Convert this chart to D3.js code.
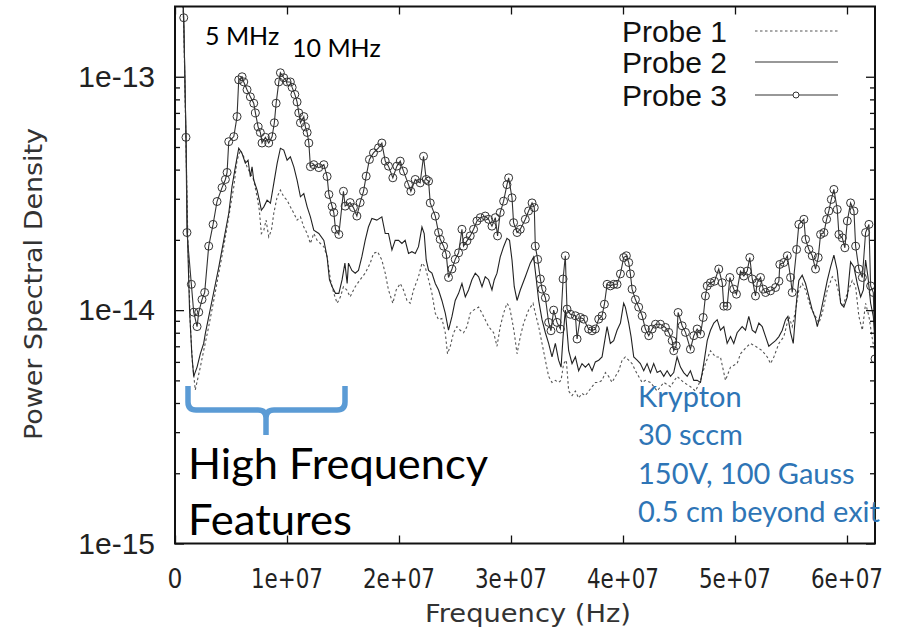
<!DOCTYPE html>
<html>
<head>
<meta charset="utf-8">
<script src="https://cdn.jsdelivr.net/npm/d3@7"></script>
<style>
  html, body { margin: 0; padding: 0; background: #fff; }
  svg { display: block; }
</style>
</head>
<body>
<svg id="chart" width="901" height="630"></svg>
<script>
// ---------------- DATA (frequency in MHz, PSD in units of 1e-14) ----------------
const probe3Freq = [0.6,0.78,0.98,1.07,1.46,1.67,1.97,2.12,2.41,2.65,3.01,3.40,3.75,4.20,4.50,4.65,4.80,5.25,5.54,5.69,5.99,6.14,6.43,6.73,7.03,7.18,7.42,7.62,7.77,8.07,8.37,8.67,8.87,9.03,9.27,9.41,9.71,10.01,10.30,10.46,10.70,10.90,11.05,11.20,11.50,11.64,11.80,11.95,12.09,12.39,12.84,13.29,13.58,13.74,14.03,14.18,14.33,14.63,15.04,15.19,15.64,15.93,16.24,16.53,16.83,17.07,17.36,17.72,18.17,18.47,18.77,19.06,19.45,19.81,20.11,20.40,20.85,21.06,21.45,21.89,22.19,22.43,22.64,22.79,23.24,23.53,23.68,23.98,24.22,24.42,24.73,25.02,25.32,25.62,25.76,26.07,26.36,26.66,26.96,27.26,27.70,28.00,28.30,28.60,28.80,29.04,29.34,29.64,29.79,30.09,30.23,30.54,30.83,31.28,31.57,31.88,32.08,32.17,32.38,32.62,32.77,33.07,33.36,33.57,33.81,34.11,34.41,34.65,34.85,35.00,35.30,35.75,35.90,36.19,36.49,36.93,37.24,37.53,37.83,38.13,38.34,38.58,38.87,39.17,39.47,39.77,40.06,40.30,40.51,40.66,40.81,41.11,41.40,41.71,42.00,42.30,42.60,42.90,43.34,43.79,44.08,44.39,44.53,44.75,44.92,45.28,45.58,46.02,46.32,46.62,46.92,47.16,47.36,47.52,47.81,48.17,48.55,48.86,49.00,49.30,49.54,49.89,50.13,50.49,50.79,51.09,51.32,51.54,51.83,51.98,52.28,52.52,52.73,53.17,53.62,53.92,54.00,54.36,54.67,54.96,55.11,55.50,55.70,56.15,56.30,56.60,56.90,57.19,57.43,57.64,57.94,58.18,58.38,58.60,58.83,59.13,59.28,59.58,59.81,60.03,60.32,60.62,60.77,61.06,61.37,61.66,61.96,62.11,62.35,62.50];
const probe3PSD = [30,17.9,5.5,2.15,1.29,0.98,0.85,0.98,1.11,1.19,1.88,2.33,2.92,3.35,3.63,3.89,5.27,5.54,6.75,9.7,10.0,9.5,8.8,8.2,7.7,7.0,6.1,5.77,5.2,5.5,5.2,5.54,6.35,7.7,9.5,10.4,9.9,9.5,9.5,9.0,8.4,7.8,7.0,6.35,6.75,6.1,5.77,5.2,4.12,4.2,4.08,4.2,3.74,3.13,2.78,2.62,2.22,2.11,3.23,2.79,2.89,2.75,2.53,2.89,3.23,3.75,4.42,4.72,4.96,5.2,4.35,4.14,3.69,4.14,4.35,3.94,3.45,3.23,3.63,3.51,4.56,3.63,3.57,2.88,2.53,2.15,2.01,1.88,1.73,1.38,1.50,1.65,1.76,2.22,1.88,1.98,2.08,2.22,2.41,2.49,2.53,2.45,2.29,2.49,2.08,2.62,2.93,3.45,3.69,3.03,2.37,2.15,2.22,2.45,2.66,2.88,2.75,1.88,1.65,1.36,1.23,1.13,0.886,0.816,1.0,0.886,0.83,1.36,1.71,1.01,0.96,0.946,0.752,0.93,0.915,0.83,0.816,0.83,0.915,0.946,1.06,1.29,1.27,1.29,1.29,1.43,1.68,1.71,1.60,1.43,1.23,1.11,1.03,0.946,0.83,0.777,0.83,0.87,0.87,0.843,0.803,0.74,0.67,0.704,0.977,0.857,0.803,0.68,0.777,0.83,0.79,0.93,1.15,1.27,1.31,1.33,1.50,1.31,1.04,1.04,1.38,1.23,1.17,1.47,1.40,1.47,1.68,1.36,1.15,1.31,1.38,1.23,1.19,1.21,1.25,1.33,1.57,1.60,1.71,1.38,1.19,1.82,2.33,2.45,2.01,1.82,1.71,1.50,1.68,2.11,2.15,2.45,2.66,2.98,3.29,2.70,2.11,2.04,1.85,2.41,2.88,2.66,1.88,1.50,1.38,2.15,2.33,1.27,1.19,0.618];

const probe2Freq = [0.6,0.8,1.0,1.1,1.3,1.5,1.67,1.97,2.26,2.56,2.71,3.31,3.91,4.35,4.80,5.09,5.39,5.69,5.99,6.28,6.52,6.73,6.88,7.03,7.33,7.53,7.71,7.93,8.22,8.52,8.82,9.12,9.41,9.71,10.01,10.30,10.61,10.90,11.20,11.50,11.80,12.09,12.39,12.84,13.29,13.58,13.79,14.03,14.33,14.63,14.92,15.17,15.37,15.49,15.79,16.09,16.38,16.68,16.98,17.27,17.58,18.02,18.47,18.77,19.06,19.37,19.66,19.96,20.26,20.55,20.85,21.15,21.45,21.74,22.05,22.25,22.43,22.64,22.94,23.24,23.53,23.83,24.13,24.42,24.73,25.02,25.32,25.62,25.92,26.21,26.51,26.81,27.11,27.41,27.70,28.00,28.30,28.51,28.75,29.04,29.34,29.64,29.87,30.09,30.29,30.54,30.83,31.28,31.72,32.02,32.26,32.47,32.77,33.07,33.36,33.66,33.96,34.25,34.47,34.65,34.85,35.15,35.45,35.75,36.04,36.34,36.64,36.94,37.24,37.53,37.83,38.13,38.43,38.58,38.87,39.17,39.47,39.77,40.06,40.21,40.51,40.72,40.96,41.26,41.55,41.85,42.15,42.45,42.74,43.05,43.34,43.64,43.94,44.24,44.53,44.83,45.13,45.42,45.73,46.02,46.32,46.62,46.92,47.21,47.52,47.81,48.11,48.41,48.70,49.00,49.30,49.60,49.89,50.19,50.64,50.94,51.23,51.54,51.83,52.13,52.43,52.73,53.02,53.32,53.62,53.92,54.22,54.51,54.72,54.96,55.20,55.50,55.70,56.00,56.30,56.60,56.90,57.19,57.35,57.64,57.94,58.24,58.53,58.83,59.13,59.43,59.72,60.03,60.32,60.62,60.92,61.22,61.46,61.66,61.87,62.11,62.35,62.50];
const probe2PSD = [30,16,5,2.2,1.0,0.65,0.52,0.57,0.65,0.72,0.795,1.10,1.53,1.99,2.60,3.38,4.11,4.94,4.69,4.26,4.39,3.73,4.11,3.61,3.27,2.96,2.68,2.77,2.96,2.87,3.49,4.25,4.94,4.85,4.39,4.54,4.11,3.61,3.06,3.16,2.77,2.51,2.20,2.13,1.99,1.69,1.35,1.26,1.18,1.18,1.35,1.59,1.30,1.59,1.48,1.44,1.48,1.69,1.99,2.27,2.47,2.43,2.51,2.13,2.13,1.81,1.99,1.99,1.93,1.99,1.75,1.78,1.75,1.87,2.27,2.13,1.64,1.48,1.44,1.30,1.22,1.10,0.97,0.82,0.94,1.10,1.18,1.30,1.14,1.22,1.35,1.44,1.39,1.26,1.39,1.35,1.22,1.35,1.44,1.69,1.87,2.03,1.99,1.64,1.26,1.10,1.22,1.39,1.59,1.69,1.35,1.10,0.91,0.80,0.72,0.63,0.72,0.61,0.57,0.77,1.0,0.67,0.59,0.63,0.55,0.59,0.57,0.59,0.55,0.60,0.61,0.63,0.77,0.85,0.72,0.74,0.82,0.88,1.07,1.03,0.88,0.77,0.63,0.61,0.59,0.55,0.59,0.54,0.59,0.54,0.55,0.52,0.55,0.52,0.54,0.63,0.57,0.54,0.52,0.55,0.50,0.50,0.49,0.59,0.74,0.82,0.88,0.91,0.82,0.85,0.72,0.77,0.72,0.80,0.85,0.82,0.94,0.82,0.80,0.88,0.85,0.77,0.70,0.72,0.74,0.77,0.82,0.91,0.94,0.80,0.72,1.10,1.34,1.41,1.30,1.14,1.00,0.92,0.85,0.97,1.14,1.34,1.53,1.72,1.48,1.07,1.03,1.14,1.61,1.53,1.30,1.14,1.22,1.64,1.39,1.07,0.94,0.77];

const probe1Freq = [0.6,0.8,1.0,1.15,1.35,1.55,1.81,2.26,2.56,3.01,3.46,3.91,4.35,4.80,5.25,5.54,5.84,6.14,6.43,6.73,7.03,7.33,7.53,7.71,7.93,8.13,8.37,8.61,8.82,9.12,9.41,9.71,10.01,10.30,10.61,10.90,11.20,11.50,11.80,12.09,12.39,12.69,12.98,13.29,13.58,13.88,14.18,14.48,14.77,15.04,15.34,15.64,16.09,16.53,16.98,17.43,17.72,18.08,18.47,18.77,19.06,19.45,19.75,20.11,20.40,20.71,21.00,21.30,21.74,22.05,22.34,22.64,22.94,23.24,23.53,23.83,24.13,24.33,24.58,24.87,25.17,25.47,25.76,26.07,26.36,26.66,27.11,27.41,27.70,28.00,28.45,28.75,29.04,29.34,29.64,29.87,30.09,30.29,30.54,30.83,31.13,31.57,31.97,32.17,32.47,32.77,33.07,33.36,33.66,33.96,34.25,34.47,34.70,34.94,35.15,35.45,35.75,36.04,36.34,36.64,36.94,37.24,37.53,37.83,38.13,38.43,38.72,39.02,39.32,39.62,39.92,40.21,40.51,40.81,41.11,41.40,41.71,42.00,42.45,43.05,43.64,44.24,44.83,45.42,46.02,46.47,46.92,47.36,47.81,48.26,48.70,49.15,49.60,50.19,50.49,51.09,51.39,51.83,52.43,52.88,53.17,53.47,53.92,54.36,54.81,55.11,55.41,55.70,56.00,56.30,56.75,57.19,57.49,57.79,58.24,58.69,58.98,59.28,59.58,60.03,60.47,60.77,61.06,61.37,61.66,61.96,62.23,62.45];
const probe1PSD = [30,15,4.5,2.0,0.9,0.6,0.455,0.57,0.67,0.85,1.10,1.44,1.87,2.51,3.38,4.39,4.85,4.54,4.11,3.85,3.61,3.06,2.68,2.13,2.20,2.43,2.06,2.20,2.60,3.06,3.27,3.06,2.96,2.77,2.60,2.43,2.51,2.27,2.13,1.93,2.13,1.99,1.93,1.87,1.69,1.35,1.18,1.07,1.14,1.26,1.22,1.14,1.26,1.35,1.44,1.59,1.75,1.78,1.64,1.44,1.22,1.07,1.22,1.30,1.22,1.10,1.07,1.22,1.39,1.59,1.53,1.35,1.18,0.97,0.91,0.92,0.80,0.65,0.70,0.80,0.85,0.82,0.80,0.85,0.97,1.00,1.03,0.97,0.91,0.85,0.80,0.70,0.85,0.97,1.07,1.03,0.91,0.80,0.65,0.77,0.88,1.00,1.07,0.97,0.85,0.72,0.61,0.52,0.49,0.50,0.49,0.50,0.59,0.61,0.45,0.43,0.45,0.42,0.44,0.43,0.45,0.47,0.49,0.49,0.50,0.54,0.52,0.49,0.52,0.55,0.61,0.63,0.61,0.59,0.55,0.52,0.49,0.50,0.49,0.45,0.49,0.47,0.52,0.49,0.47,0.45,0.50,0.59,0.67,0.63,0.63,0.50,0.57,0.59,0.65,0.70,0.72,0.70,0.67,0.63,0.59,0.63,0.72,0.77,0.94,0.85,1.00,1.22,1.30,1.22,1.03,0.94,0.88,0.97,1.22,1.39,1.34,1.18,1.03,1.18,1.34,1.26,0.94,0.82,1.07,0.94,0.77,0.67];

const xTickValues = [0, 1e7, 2e7, 3e7, 4e7, 5e7, 6e7];
const xTickLabels = ["0", "1e+07", "2e+07", "3e+07", "4e+07", "5e+07", "6e+07"];
const yTickValues = [1e-15, 1e-14, 1e-13];
const yTickLabels = ["1e-15", "1e-14", "1e-13"];
const seriesNames = ["Probe 1", "Probe 2", "Probe 3"];
const peakLabels = ["5 MHz", "10 MHz"];
const bracketLabel = ["High Frequency", "Features"];
const conditionLines = ["Krypton", "30 sccm", "150V, 100 Gauss", "0.5 cm beyond exit"];

// ---------------- CHART ----------------
const svg = d3.select("#chart");
const L = 175, R = 875, T = 6.5, B = 543.5;

const x = d3.scaleLinear().domain([0, 6.25e7]).range([L, R]);
const y = d3.scaleLog().domain([1e-15, 2e-13]).range([B, T]);

const toPts = (fs, vs) => fs.map((f, i) => ({ f: f * 1e6, v: vs[i] * 1e-14 }));
const p1 = toPts(probe1Freq, probe1PSD);
const p2 = toPts(probe2Freq, probe2PSD);
const p3 = toPts(probe3Freq, probe3PSD);

svg.append("defs").append("clipPath").attr("id", "plotclip")
  .append("rect").attr("x", L).attr("y", T).attr("width", R - L).attr("height", B - T);

const line = d3.line().x(d => x(d.f)).y(d => y(d.v));
const plot = svg.append("g").attr("clip-path", "url(#plotclip)");

plot.append("path").datum(p1).attr("d", line)
  .attr("fill", "none").attr("stroke", "#555").attr("stroke-width", 1.1).attr("stroke-dasharray", "2.5,2.5");
plot.append("path").datum(p2).attr("d", line)
  .attr("fill", "none").attr("stroke", "#222").attr("stroke-width", 1.1);
plot.append("path").datum(p3).attr("d", line)
  .attr("fill", "none").attr("stroke", "#333").attr("stroke-width", 1.1);
plot.selectAll("circle.p3").data(p3.filter(d => d.v <= 2e-13)).enter().append("circle")
  .attr("class", "p3").attr("cx", d => x(d.f)).attr("cy", d => y(d.v)).attr("r", 4)
  .attr("fill", "none").attr("stroke", "#333").attr("stroke-width", 1);

// ---------------- AXES (gnuplot-style: ticks inside, mirrored) ----------------
const axisG = svg.append("g");
const xBottom = d3.axisBottom(x).tickValues(xTickValues).tickSize(-8).tickFormat("");
const xTop = d3.axisTop(x).tickValues(xTickValues).tickSize(-8).tickFormat("");
axisG.append("g").attr("transform", `translate(0,${B})`).call(xBottom);
axisG.append("g").attr("transform", `translate(0,${T})`).call(xTop);

const minorVals = [];
[1e-15, 1e-14, 1e-13].forEach(d => { for (let k = 2; k <= 9; k++) { const v = d * k; if (v < 2e-13) minorVals.push(v); } });
axisG.append("g").attr("transform", `translate(${L},0)`).call(d3.axisLeft(y).tickValues(yTickValues).tickSize(-9).tickFormat(""));
axisG.append("g").attr("transform", `translate(${L},0)`).call(d3.axisLeft(y).tickValues(minorVals).tickSize(-5).tickFormat(""));
axisG.append("g").attr("transform", `translate(${R},0)`).call(d3.axisRight(y).tickValues(yTickValues).tickSize(-9).tickFormat(""));
axisG.append("g").attr("transform", `translate(${R},0)`).call(d3.axisRight(y).tickValues(minorVals).tickSize(-5).tickFormat(""));
axisG.selectAll(".domain").remove();
axisG.selectAll(".tick line").attr("stroke", "#111").attr("stroke-width", 1.3);

svg.append("rect").attr("x", L).attr("y", T).attr("width", R - L).attr("height", B - T)
  .attr("fill", "none").attr("stroke", "#111").attr("stroke-width", 2);

// tick labels
svg.append("g").selectAll("text").data(xTickValues).enter().append("text")
  .attr("x", d => x(d)).attr("y", 588).attr("text-anchor", "middle")
  .attr("font-family", "'DejaVu Sans Condensed', 'DejaVu Sans'").attr("font-size", 26).attr("fill", "#222")
  .each(function (d, i) { if (i > 0) d3.select(this).attr("textLength", 72).attr("lengthAdjust", "spacingAndGlyphs"); })
  .text((d, i) => xTickLabels[i]);
svg.append("g").selectAll("text").data(yTickValues).enter().append("text")
  .attr("x", 155).attr("y", d => y(d) + 10).attr("text-anchor", "end")
  .attr("font-family", "Liberation Sans").attr("font-size", 30).attr("fill", "#222")
  .text((d, i) => yTickLabels[i]);

// axis titles
svg.append("text").attr("transform", "translate(42,284) rotate(-90)")
  .attr("text-anchor", "middle").attr("font-family", "DejaVu Sans").attr("font-size", 25)
  .attr("fill", "#333").attr("textLength", 312).attr("lengthAdjust", "spacingAndGlyphs")
  .text("Power Spectral Density");
svg.append("text").attr("x", 528).attr("y", 622).attr("text-anchor", "middle")
  .attr("font-family", "DejaVu Sans").attr("font-size", 25).attr("fill", "#333")
  .attr("textLength", 206).attr("lengthAdjust", "spacingAndGlyphs")
  .text("Frequency (Hz)");

// ---------------- LEGEND ----------------
const legY = [31, 62, 95];
const leg = svg.append("g");
seriesNames.forEach((name, i) => {
  leg.append("text").attr("x", 727).attr("y", legY[i] + 11).attr("text-anchor", "end")
    .attr("font-family", "Liberation Sans").attr("font-size", 30).attr("fill", "#111").text(name);
  const ln = leg.append("line").attr("x1", 755).attr("x2", 838).attr("y1", legY[i]).attr("y2", legY[i])
    .attr("stroke-width", 1.1);
  if (i === 0) ln.attr("stroke", "#555").attr("stroke-dasharray", "2.5,2.5");
  else ln.attr("stroke", "#333");
  if (i === 2) leg.append("circle").attr("cx", 796).attr("cy", legY[i]).attr("r", 3)
    .attr("fill", "#fff").attr("stroke", "#333").attr("stroke-width", 1);
});

// ---------------- ANNOTATIONS ----------------
const annoFont = "Lato, 'Open Sans', sans-serif";
svg.append("text").attr("x", 205).attr("y", 45).attr("font-family", annoFont).attr("font-size", 25)
  .attr("fill", "#000").text(peakLabels[0]);
svg.append("text").attr("x", 292).attr("y", 57).attr("font-family", annoFont).attr("font-size", 25)
  .attr("fill", "#000").text(peakLabels[1]);

const blue = "#5b9bd5";
svg.append("path")
  .attr("d", "M188,386 L188,402 Q188,410 196,410 L258,410 Q266,410 266,418 L266,435 M266,418 Q266,410 274,410 L337,410 Q345,410 345,402 L345,386")
  .attr("fill", "none").attr("stroke", blue).attr("stroke-width", 5.5);

svg.append("text").attr("x", 188).attr("y", 479).attr("font-family", annoFont).attr("font-size", 42)
  .attr("fill", "#000").attr("textLength", 300).attr("lengthAdjust", "spacingAndGlyphs").text(bracketLabel[0]);
svg.append("text").attr("x", 188).attr("y", 535).attr("font-family", annoFont).attr("font-size", 42)
  .attr("fill", "#000").attr("textLength", 164).attr("lengthAdjust", "spacingAndGlyphs").text(bracketLabel[1]);

const condY = [407, 445, 484, 522];
conditionLines.forEach((t, i) => {
  svg.append("text").attr("x", 638).attr("y", condY[i]).attr("font-family", annoFont).attr("font-size", 29)
    .attr("fill", "#2e75b6").text(t);
});
</script>
</body>
</html>
